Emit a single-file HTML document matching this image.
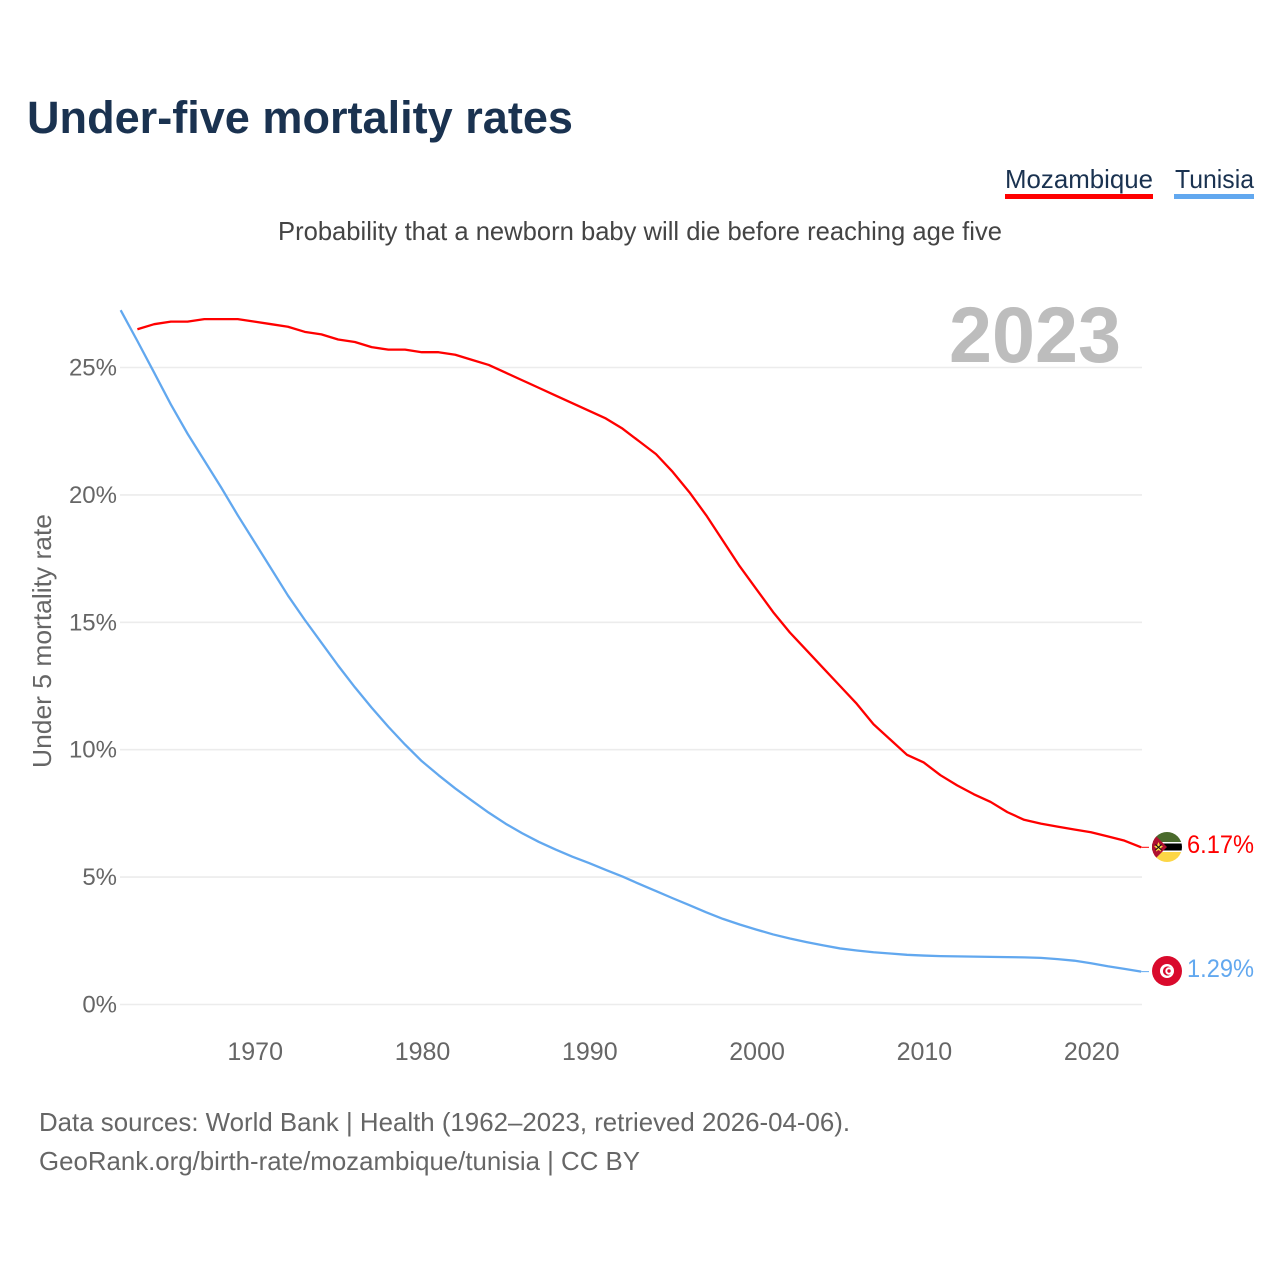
<!DOCTYPE html>
<html>
<head>
<meta charset="utf-8">
<title>Under-five mortality rates</title>
<style>
html,body{margin:0;padding:0;background:#fff;width:1280px;height:1280px;overflow:hidden}
svg{display:block}
text{font-family:"Liberation Sans",sans-serif}
</style>
</head>
<body>
<svg id="chart" width="1280" height="1280" viewBox="0 0 1280 1280" xmlns="http://www.w3.org/2000/svg">
<defs>
<clipPath id="flag-clip-a"><circle cx="1167" cy="847" r="15"/></clipPath>
<clipPath id="flag-clip-b"><circle cx="1167" cy="971" r="15"/></clipPath>
</defs>
<text x="27" y="133" font-size="45" font-weight="700" fill="#1a3250" textLength="546" lengthAdjust="spacingAndGlyphs">Under-five mortality rates</text>
<g>
<g>
<text x="1005" y="188" font-size="26" fill="#1a3250" textLength="148" lengthAdjust="spacingAndGlyphs">Mozambique</text>
<rect x="1005" y="194" width="148" height="5" fill="#ff0000"/>
</g>
<g>
<text x="1175" y="188" font-size="26" fill="#1a3250" textLength="79" lengthAdjust="spacingAndGlyphs">Tunisia</text>
<rect x="1174" y="194" width="80" height="5" fill="#62a8ef"/>
</g>
</g>
<text x="278" y="240" font-size="26" fill="#444" textLength="724" lengthAdjust="spacingAndGlyphs">Probability that a newborn baby will die before reaching age five</text>
<g id="grid"></g>
<text x="949" y="362" font-size="79" font-weight="700" fill="#bdbdbd" textLength="172" lengthAdjust="spacingAndGlyphs">2023</text>
<g id="y-ticks"></g>
<g id="x-ticks"></g>
<text transform="translate(51,768) rotate(-90)" font-size="26" fill="#666" textLength="254" lengthAdjust="spacingAndGlyphs">Under 5 mortality rate</text>
<g id="series"></g>

<g clip-path="url(#flag-clip-a)">
<rect x="1152" y="832" width="30" height="10" fill="#4a6a2c"/>
<rect x="1152" y="842" width="30" height="1.5" fill="#fff"/>
<rect x="1152" y="843.5" width="30" height="7" fill="#000"/>
<rect x="1152" y="850.5" width="30" height="1.5" fill="#fff"/>
<rect x="1152" y="852" width="30" height="10" fill="#fcd646"/>
<polygon points="1152,832 1167,847 1152,862" fill="#b01030"/>
<polygon points="1158.5,842 1160,845.5 1163,846 1160.5,848.5 1161,851.5 1158.5,850 1156,851.5 1156.5,848.5 1154,846 1157,845.5" fill="#fcd646"/>
<path d="M1155.5 844.5l6 5.5M1161.5 844.5l-6 5.5" stroke="#111" stroke-width="1.1"/>
</g>
<g clip-path="url(#flag-clip-b)">
<rect x="1152" y="956" width="30" height="30" fill="#d90a2c"/>
<circle cx="1167" cy="971" r="7" fill="#fff"/>
<circle cx="1167.5" cy="971" r="4.6" fill="#d90a2c"/>
<circle cx="1169" cy="971" r="3.7" fill="#fff"/>
<circle cx="1169" cy="971" r="1.7" fill="#d90a2c"/>
</g>
<text x="1187" y="853" font-size="25" fill="#ff0000" textLength="67" lengthAdjust="spacingAndGlyphs">6.17%</text>
<text x="1187" y="977" font-size="25" fill="#62a8ef" textLength="67" lengthAdjust="spacingAndGlyphs">1.29%</text>
<text x="39" y="1131" font-size="26" fill="#666" textLength="811" lengthAdjust="spacingAndGlyphs">Data sources: World Bank | Health (1962–2023, retrieved 2026-04-06).</text>
<text x="39" y="1170" font-size="26" fill="#666" textLength="601" lengthAdjust="spacingAndGlyphs">GeoRank.org/birth-rate/mozambique/tunisia | CC BY</text>
</svg>
<script>
const yTickValues = [0, 5, 10, 15, 20, 25];
const xTickYears = [1970, 1980, 1990, 2000, 2010, 2020];
const mozambiqueStartYear = 1963;
const mozambiqueValues = [26.5,26.7,26.8,26.8,26.9,26.9,26.9,26.8,26.7,26.6,26.4,26.3,26.1,26.0,25.8,25.7,25.7,25.6,25.6,25.5,25.3,25.1,24.8,24.5,24.2,23.9,23.6,23.3,23.0,22.6,22.1,21.6,20.9,20.1,19.2,18.2,17.2,16.3,15.4,14.6,13.9,13.2,12.5,11.8,11.0,10.4,9.8,9.5,9.0,8.6,8.25,7.95,7.55,7.25,7.1,6.98,6.87,6.76,6.6,6.43,6.17];
const tunisiaStartYear = 1962;
const tunisiaValues = [27.25,26.04,24.8,23.55,22.4,21.35,20.3,19.2,18.15,17.1,16.05,15.1,14.2,13.3,12.45,11.65,10.9,10.2,9.55,9.0,8.48,8.0,7.53,7.1,6.72,6.38,6.08,5.8,5.55,5.28,5.02,4.73,4.45,4.17,3.9,3.62,3.36,3.14,2.94,2.75,2.59,2.45,2.32,2.2,2.12,2.05,2.0,1.95,1.92,1.9,1.89,1.88,1.87,1.86,1.85,1.83,1.78,1.72,1.62,1.5,1.4,1.29];

const NS = 'http://www.w3.org/2000/svg';
function xScale(year) { return 254.5 + (year - 1970) * 16.73; }
function yScale(value) { return 1004.5 - value * 25.48; }
function linePath(startYear, values) {
  return values.map(function (v, i) {
    return (i ? 'L' : 'M') + xScale(startYear + i).toFixed(2) + ' ' + yScale(v).toFixed(2);
  }).join('');
}
function connectorPath(startYear, values) {
  const last = values.length - 1;
  return 'M' + xScale(startYear + last).toFixed(2) + ' ' + yScale(values[last]).toFixed(2) + 'H1149';
}

const grid = document.getElementById('grid');
const yTicks = document.getElementById('y-ticks');
yTickValues.forEach(function (v) {
  const line = document.createElementNS(NS, 'line');
  
  
  line.setAttribute('x1', 120);
  line.setAttribute('x2', 1142);
  line.setAttribute('y1', yScale(v));
  line.setAttribute('y2', yScale(v));
  line.setAttribute('stroke', '#ececec');
  line.setAttribute('stroke-width', 1.6);
  grid.appendChild(line);
  const label = document.createElementNS(NS, 'text');
  
  
  label.setAttribute('x', 117);
  label.setAttribute('y', yScale(v) + 8);
  label.setAttribute('font-size', 24);
  label.setAttribute('fill', '#666');
  label.setAttribute('text-anchor', 'end');
  label.textContent = v + '%';
  yTicks.appendChild(label);
});

const xTicks = document.getElementById('x-ticks');
xTickYears.forEach(function (year) {
  const label = document.createElementNS(NS, 'text');
  
  
  label.setAttribute('x', xScale(year) + 0.7);
  label.setAttribute('y', 1060);
  label.setAttribute('font-size', 25);
  label.setAttribute('fill', '#666');
  label.setAttribute('text-anchor', 'middle');
  label.textContent = year;
  xTicks.appendChild(label);
});

const series = document.getElementById('series');
const mozLine = document.createElementNS(NS, 'path');


mozLine.setAttribute('d', linePath(mozambiqueStartYear, mozambiqueValues));
mozLine.setAttribute('fill', 'none');
mozLine.setAttribute('stroke', '#ff0000');
mozLine.setAttribute('stroke-width', 2.3);
mozLine.setAttribute('stroke-linejoin', 'round');
series.appendChild(mozLine);
const mozConnector = document.createElementNS(NS, 'path');


mozConnector.setAttribute('d', connectorPath(mozambiqueStartYear, mozambiqueValues));
mozConnector.setAttribute('fill', 'none');
mozConnector.setAttribute('stroke', '#ff0000');
mozConnector.setAttribute('stroke-width', 1);
series.appendChild(mozConnector);
const tunLine = document.createElementNS(NS, 'path');


tunLine.setAttribute('d', linePath(tunisiaStartYear, tunisiaValues));
tunLine.setAttribute('fill', 'none');
tunLine.setAttribute('stroke', '#62a8ef');
tunLine.setAttribute('stroke-width', 2.3);
tunLine.setAttribute('stroke-linejoin', 'round');
series.appendChild(tunLine);
const tunConnector = document.createElementNS(NS, 'path');


tunConnector.setAttribute('d', connectorPath(tunisiaStartYear, tunisiaValues));
tunConnector.setAttribute('fill', 'none');
tunConnector.setAttribute('stroke', '#62a8ef');
tunConnector.setAttribute('stroke-width', 1);
series.appendChild(tunConnector);
</script>
</body>
</html>
